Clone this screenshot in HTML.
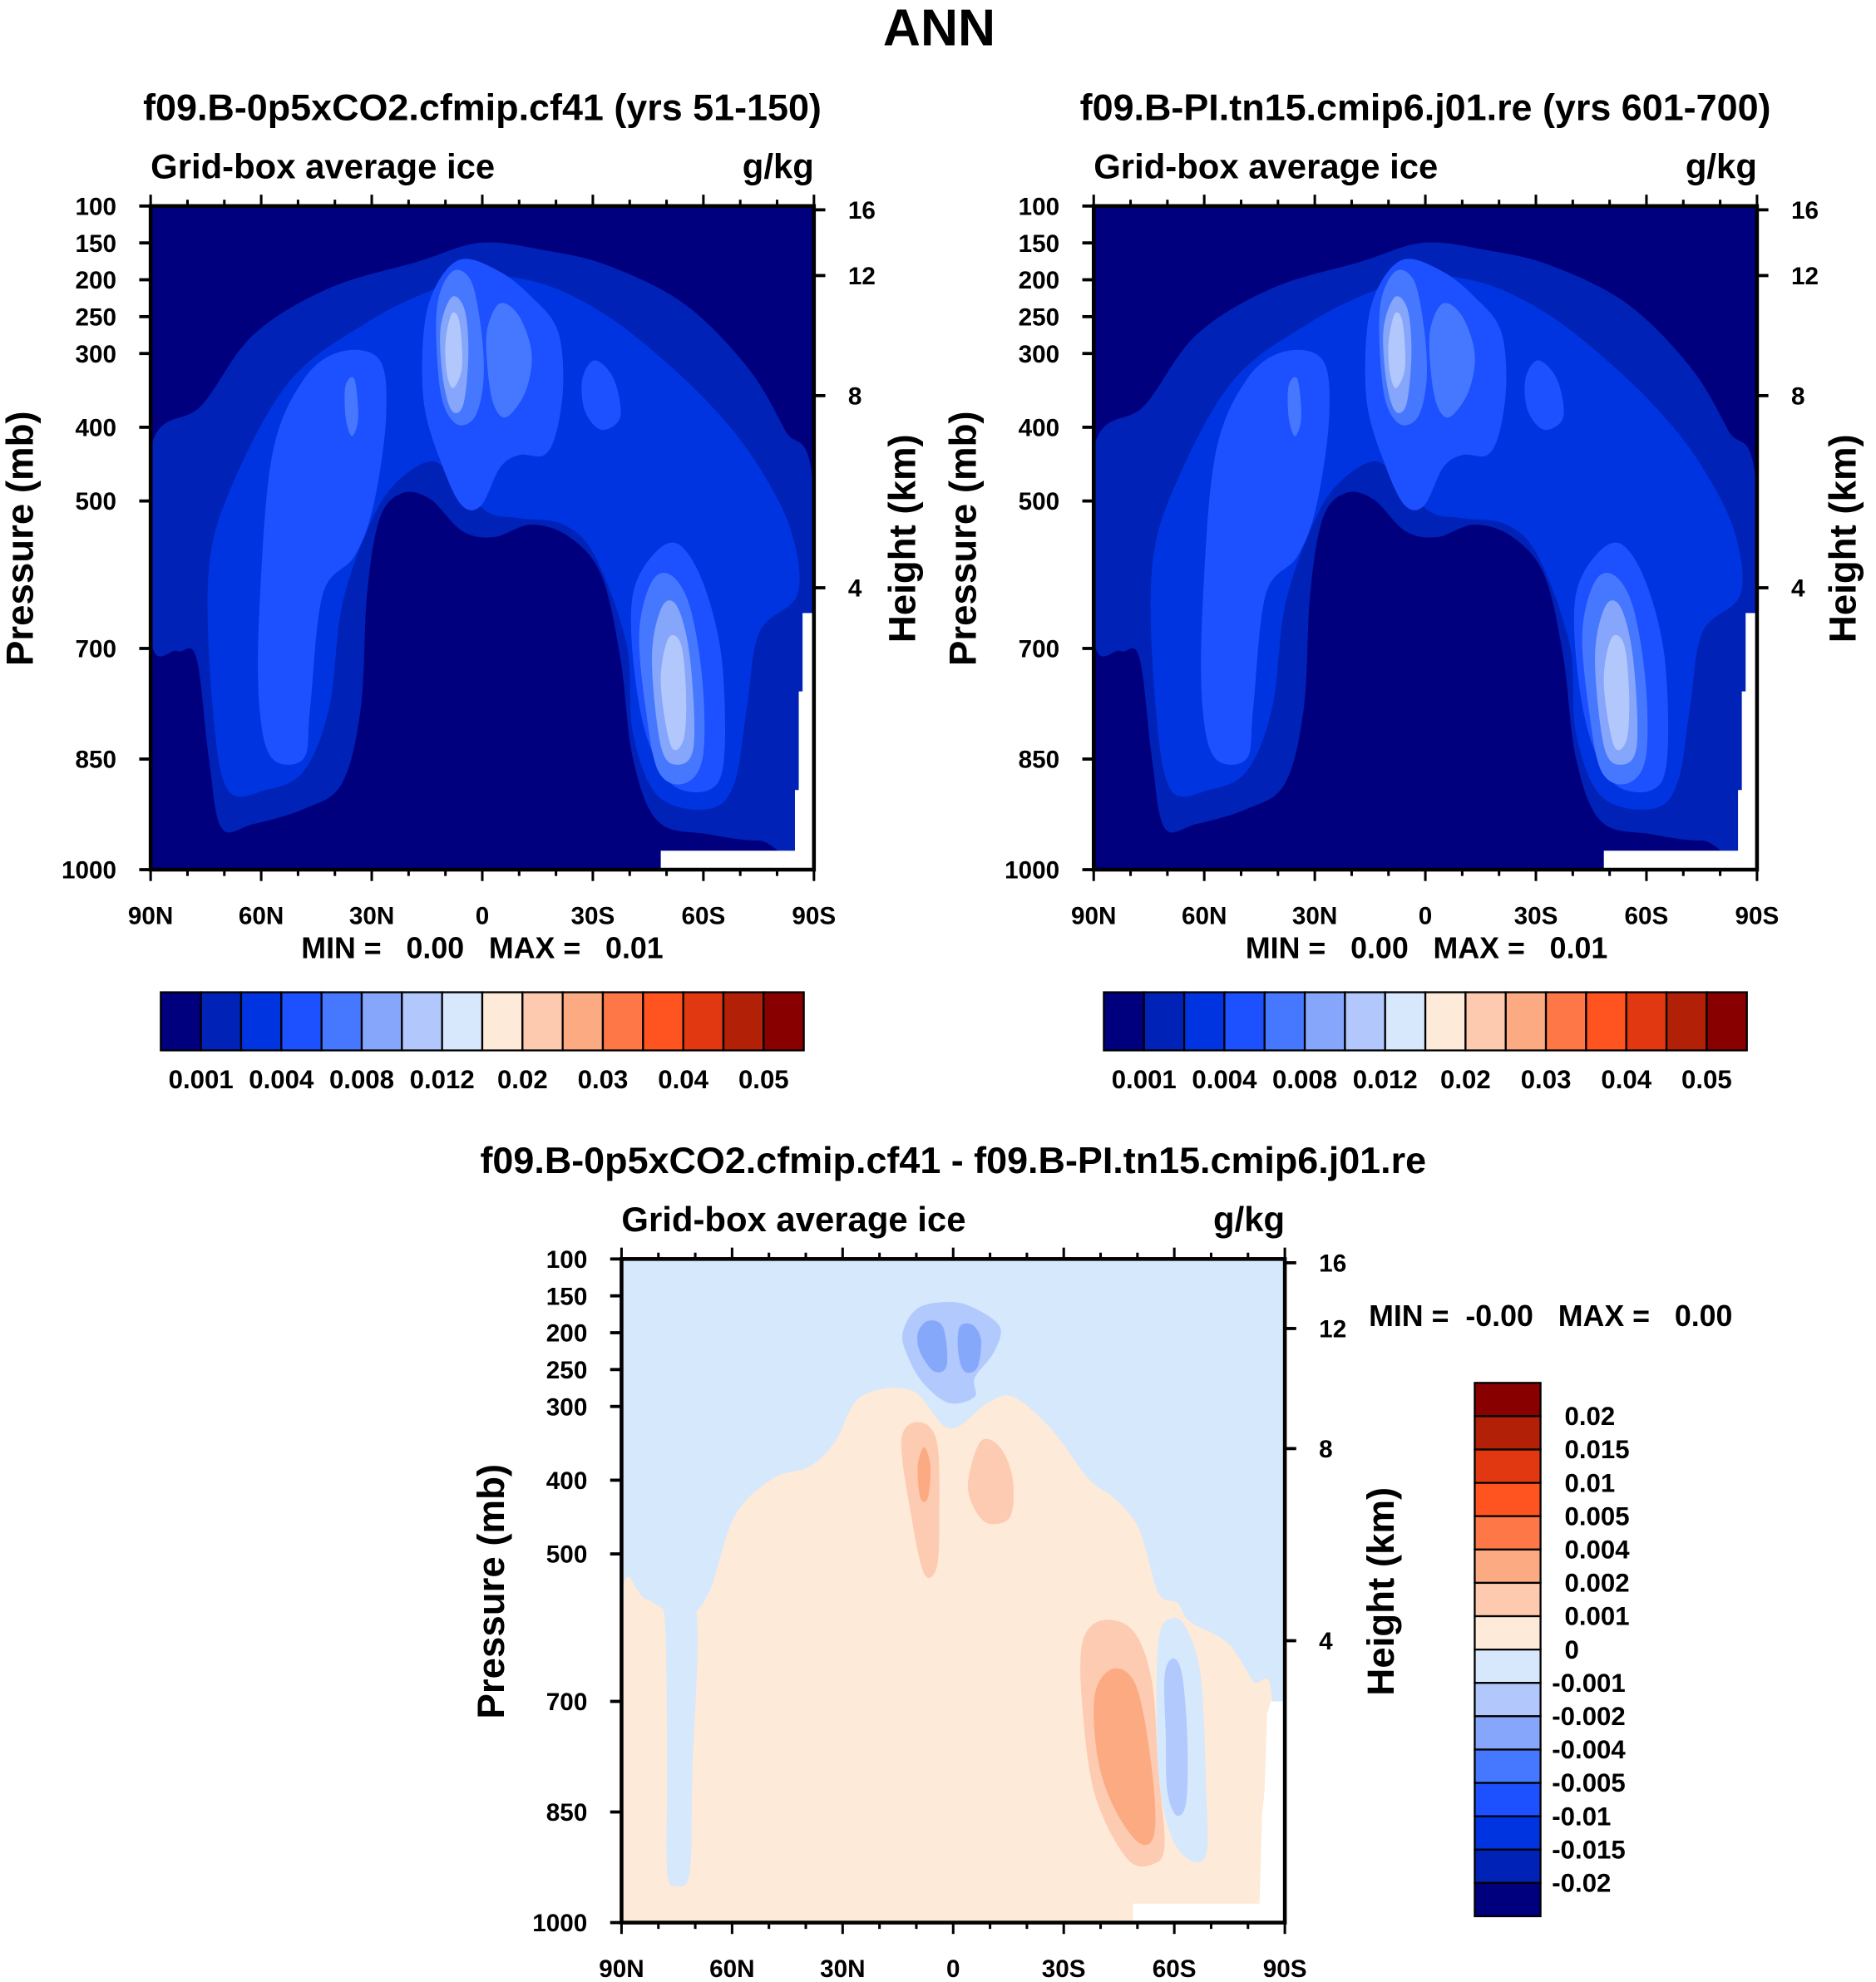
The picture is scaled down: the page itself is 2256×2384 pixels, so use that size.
<!DOCTYPE html>
<html><head><meta charset="utf-8">
<style>
html,body{margin:0;padding:0;background:#fff;}
svg{display:block;}
text{font-family:"Liberation Sans",Arial,sans-serif;font-weight:bold;fill:#000;white-space:pre;}
</style></head>
<body>
<svg id="fig" width="2256" height="2384" viewBox="0 0 1482 1568" preserveAspectRatio="none" xmlns="http://www.w3.org/2000/svg" xml:space="preserve">
<text x="742" y="36" font-size="41" text-anchor="middle">ANN</text>
<g id="p1"></g>
<g id="p2"></g>
<g id="p3"></g>
</svg>
<script>
const NS="http://www.w3.org/2000/svg";
const latTicks=["90N","60N","30N","0","30S","60S","90S"];
const latTickVals=[90,60,30,0,-30,-60,-90];
const presTicks=[100,150,200,250,300,400,500,700,850,1000];
const hgtTicks=[16,12,8,4];
const hgtPos=[3,55,150,302];
const absLevels=["0.001","0.004","0.008","0.012","0.02","0.03","0.04","0.05"];
const absColors=["#00007e","#0022b6","#0034e0","#1d50ff","#4678ff","#86a6fb","#b2c8fd","#d8e8fc","#feead8","#fdcab0","#fbaa82","#fd7846","#ff5420","#e13812","#b22008","#880000"];
const diffLevels=["0.02","0.015","0.01","0.005","0.004","0.002","0.001","0","-0.001","-0.002","-0.004","-0.005","-0.01","-0.015","-0.02"];

function el(tag,attrs,parent,txt){const e=document.createElementNS(NS,tag);for(const k in attrs)e.setAttribute(k,attrs[k]);if(txt!==undefined)e.textContent=txt;parent.appendChild(e);return e;}
function smooth(pts){let d="";const n=pts.length;for(let i=0;i<n;i++){const p0=pts[(i-1+n)%n],p1=pts[i],p2=pts[(i+1)%n],p3=pts[(i+2)%n];if(i===0)d+="M"+p1[0]+","+p1[1];const c1=[p1[0]+(p2[0]-p0[0])/6,p1[1]+(p2[1]-p0[1])/6],c2=[p2[0]-(p3[0]-p1[0])/6,p2[1]-(p3[1]-p1[1])/6];d+="C"+c1[0].toFixed(1)+","+c1[1].toFixed(1)+" "+c2[0].toFixed(1)+","+c2[1].toFixed(1)+" "+p2[0]+","+p2[1];}return d+"Z";}

function panel(g,x0,y0,title,bg,shapes,whites,rOff){
  const W=524,H=525;
  const xs=lat=>x0+(90-lat)/180*W;
  const ys=p=>y0+(p-100)/900*H;
  el("text",{x:x0+262,y:y0-68,"font-size":29.5,"text-anchor":"middle",},g,title);
  el("text",{x:x0,y:y0-22,"font-size":27.5,},g,"Grid-box average ice");
  el("text",{x:x0+W,y:y0-22,"font-size":27.5,"text-anchor":"end",},g,"g/kg");
  const cp="clip"+x0+"_"+y0;
  const defs=el("defs",{},g);const c=el("clipPath",{id:cp},defs);el("rect",{x:x0,y:y0,width:W,height:H},c);
  const pg=el("g",{"clip-path":"url(#"+cp+")",},g);
  el("rect",{x:x0,y:y0,width:W,height:H,fill:bg},pg);
  shapes.forEach(s=>{const e=el("path",{d:smooth(s[1].map(p=>[p[0]+x0,p[1]+y0])),fill:s[0]},pg);});
  whites.forEach(w=>{el("polygon",{points:w.map(p=>(p[0]+x0)+","+(p[1]+y0)).join(" "),fill:"#fff",},pg);});
  el("rect",{x:x0,y:y0,width:W,height:H,fill:"none",stroke:"#000","stroke-width":3,},g);
  for(let lat=90;lat>=-90;lat-=10){const x=xs(lat);const maj=lat%30===0;const L=maj?9:5;
    el("line",{x1:x,y1:y0,x2:x,y2:y0-L,stroke:"#000","stroke-width":2},g);
    el("line",{x1:x,y1:y0+H,x2:x,y2:y0+H+L,stroke:"#000","stroke-width":2},g);}
  latTickVals.forEach((v,i)=>{el("text",{x:xs(v),y:y0+H+43,"font-size":19.5,"text-anchor":"middle",},g,latTicks[i]);});
  presTicks.forEach(p=>{const y=ys(p);el("line",{x1:x0,y1:y,x2:x0-9,y2:y,stroke:"#000","stroke-width":2.5},g);
    el("text",{x:x0-27,y:y+7,"font-size":19.5,"text-anchor":"end",},g,p);});
  hgtTicks.forEach((h,i)=>{const y=y0+hgtPos[i];el("line",{x1:x0+W,y1:y,x2:x0+W+9,y2:y,stroke:"#000","stroke-width":2.5},g);
    el("text",{x:x0+W+27,y:y+7,"font-size":19.5,},g,h);});
  el("text",{x:0,y:0,"font-size":30,"text-anchor":"middle",transform:"translate("+(x0-93)+","+(y0+263)+") rotate(-90)",},g,"Pressure (mb)");
  el("text",{x:0,y:0,"font-size":30,"text-anchor":"middle",transform:"translate("+(x0+W+rOff)+","+(y0+263)+") rotate(-90)",},g,"Height (km)");
}

const C=absColors;
const absShapes=[
 [C[1],[[0,192],[40,158],[81,102],[141,65],[211,44],[261,29],[311,35],[361,47],[421,77],[471,127],[501,177],[524,227],[524,497],[481,502],[441,497],[401,487],[381,437],[371,357],[356,292],[331,262],[301,252],[271,262],[246,257],[221,232],[199,227],[181,247],[171,307],[166,397],[151,457],[121,477],[81,489],[56,492],[46,437],[36,357],[21,352],[0,342]]],
 [C[2],[[46,287],[66,217],[111,137],[171,92],[221,67],[261,55],[311,62],[361,87],[411,127],[451,167],[481,207],[506,257],[511,307],[481,337],[471,397],[461,457],[441,477],[401,467],[381,417],[376,347],[351,277],[326,252],[291,247],[266,242],[241,217],[221,202],[191,222],[171,257],[151,317],[141,397],[121,447],[91,462],[61,462],[49,397]]],
 [C[3],[[86,317],[96,197],[121,137],[151,115],[181,122],[186,167],[176,237],[161,277],[136,307],[126,397],[121,437],[96,437],[86,397]]],
 [C[3],[[216,97],[226,62],[246,42],[276,52],[301,72],[321,97],[326,137],[321,177],[311,197],[291,197],[276,207],[261,237],[246,237],[231,207],[216,157]]],
 [C[3],[[341,137],[351,122],[366,137],[371,167],[356,177],[343,162]]],
 [C[3],[[381,307],[396,277],[416,267],[436,297],[451,357],[453,437],[441,462],[411,457],[391,417],[381,357]]],
 [C[4],[[154,142],[161,137],[164,167],[159,182],[154,167]]],
 [C[4],[[226,82],[238,52],[253,59],[261,97],[263,137],[256,167],[241,172],[229,147]]],
 [C[4],[[266,97],[276,77],[291,87],[301,117],[296,147],[281,167],[271,157],[266,127]]],
 [C[4],[[386,337],[396,297],[411,292],[426,317],[436,377],[436,437],[421,457],[401,447],[391,397]]],
 [C[5],[[229,97],[238,72],[248,82],[251,117],[247,157],[238,162],[231,137]]],
 [C[5],[[396,357],[404,317],[416,317],[426,357],[429,427],[416,442],[403,427]]],
 [C[6],[[233,107],[238,85],[244,92],[246,127],[239,144],[234,132]]],
 [C[6],[[403,377],[409,342],[419,347],[423,387],[421,422],[411,427]]]
];
const absWhites=[[[403,510],[509,510],[509,462],[512,462],[512,384],[515,384],[515,322],[524,322],[524,525],[403,525]]];

function colorbar(g,x0,y0){
  const w=508/16;
  absColors.forEach((c,i)=>{const r=el("rect",{x:x0+i*w,y:y0,width:w,height:46,fill:c,stroke:"#000","stroke-width":1.5},g);});
  absLevels.forEach((l,k)=>{el("text",{x:x0+(2*k+1)*w,y:y0+76,"font-size":20.5,"text-anchor":"middle",},g,l);});
}

const g1=document.getElementById("p1");
panel(g1,119,163,"f09.B-0p5xCO2.cfmip.cf41 (yrs 51-150)",C[0],absShapes,absWhites,80);
el("text",{x:381,y:758,"font-size":23.5,"text-anchor":"middle",},g1,"MIN =   0.00   MAX =   0.01");
colorbar(g1,127,785);
const g2=document.getElementById("p2");
panel(g2,864,163,"f09.B-PI.tn15.cmip6.j01.re (yrs 601-700)",C[0],absShapes,absWhites,78);
el("text",{x:1127,y:758,"font-size":23.5,"text-anchor":"middle",},g2,"MIN =   0.00   MAX =   0.01");
colorbar(g2,872,785);

const LB="#d6e8fc",LO="#feead8",O2="#fdcbb1",O3="#fcaa82",B2="#b2c9fd",B3="#86a8fb";
const diffShapes=[
 [LO,[[0,272],[19,269],[49,284],[69,264],[89,204],[119,174],[149,164],[169,144],[189,109],[229,104],[259,134],[289,114],[309,109],[339,134],[369,174],[389,189],[409,214],[424,264],[439,272],[449,287],[479,304],[499,334],[514,349],[514,530],[0,530]]],
 [LB,[[32,250],[48,250],[60,290],[56,404],[54,484],[44,496],[36,484],[36,404],[35,300]]],
 [O2,[[221,144],[234,129],[249,144],[251,204],[249,244],[239,249],[229,204]]],
 [O2,[[274,174],[284,144],[299,149],[309,174],[307,204],[289,209],[277,194]]],
 [O2,[[364,304],[379,286],[404,294],[419,334],[424,404],[429,464],[419,479],[399,474],[374,424],[364,354]]],
 [O3,[[234,164],[239,149],[244,164],[242,189],[236,189]]],
 [O3,[[374,344],[389,324],[407,339],[419,404],[421,454],[409,462],[389,434],[376,394]]],
 [LB,[[424,304],[436,284],[448,296],[458,334],[462,424],[462,470],[450,476],[434,456],[424,404]]],
 [B2,[[429,330],[436,316],[443,330],[447,380],[446,430],[438,440],[431,420],[430,380]]],
 [B2,[[222,59],[234,39],[259,34],[279,39],[299,54],[294,74],[279,94],[279,109],[259,114],[239,99],[227,79]]],
 [B3,[[234,59],[242,49],[254,54],[257,84],[247,89],[236,74]]],
 [B3,[[267,54],[277,52],[284,64],[281,86],[271,89],[266,74]]]
];
const diffWhites=[[[404,510],[504,510],[506,440],[508,420],[510,360],[513,350],[524,350],[524,530],[404,530]]];
const g3=document.getElementById("p3");
panel(g3,491,996,"f09.B-0p5xCO2.cfmip.cf41 - f09.B-PI.tn15.cmip6.j01.re",LB,diffShapes,diffWhites,86);
el("text",{x:1225,y:1049,"font-size":23.5,"text-anchor":"middle",},g3,"MIN =  -0.00   MAX =   0.00");
const vh=422/16;
absColors.slice().reverse().forEach((c,i)=>{const r=el("rect",{x:1165,y:1094+i*vh,width:52,height:vh,fill:c,stroke:"#000","stroke-width":1.5},g3);});
diffLevels.forEach((l,k)=>{el("text",{x:l.startsWith("-")?1226:1236,y:1094+(k+1)*vh+7,"font-size":20.5,},g3,l);});
</script>
</body></html>
